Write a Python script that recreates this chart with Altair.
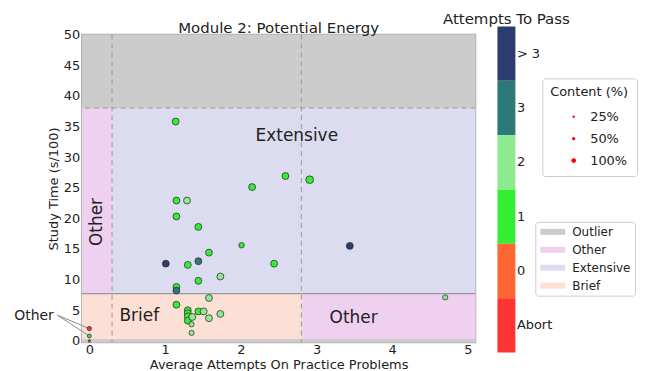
import altair as alt
import pandas as pd

# ---------------- data ----------------
pt_x = [1.14, 1.15, 1.29, 2.15, 2.59, 2.91, 1.15, 1.44, 1.58, 2.01, 3.44, 1.01,
        1.30, 1.44, 2.44, 1.44, 1.73, 1.15, 1.15, 1.15, 1.58, 4.70, 1.30, 1.30,
        1.30, 1.30, 1.36, 1.44, 1.51, 1.58, 1.73, 1.35, 1.35, 0.0, 0.0, 0.0]
pt_y = [35.8, 22.9, 22.9, 25.1, 26.9, 26.3, 20.3, 18.6, 14.4, 15.6, 15.5, 12.6,
        12.4, 13.0, 12.6, 9.8, 10.5, 8.8, 8.2, 5.9, 7.0, 7.1, 5.0, 4.5,
        4.0, 3.3, 3.9, 4.8, 4.8, 3.7, 4.4, 2.7, 1.3, 2.0, 0.8, 0.0]
pt_att = ["1", "1", "2", "1", "1", "1", "1", "1", "1", "1", "> 3", "> 3",
          "1", "3", "1", "1", "2", "1", "3", "1", "2", "2", "1", "1",
          "1", "1", "2", "1", "2", "2", "2", "2", "2", "Abort", "1", "Abort"]
pt_content = [80, 80, 80, 80, 80, 100, 80, 80, 80, 50, 80, 80,
              80, 80, 80, 80, 80, 80, 80, 80, 80, 45, 80, 80,
              80, 80, 80, 80, 80, 80, 80, 45, 45, 30, 25, 10]

cat_order = ["> 3", "3", "2", "1", "0", "Abort"]
cat_colors = ["#2b3d6e", "#2c7a78", "#8eea8e", "#33ee33", "#ff6633", "#ff3333"]

region_name = ["Outlier", "Outlier", "Other", "Extensive", "Brief", "Other"]
region_x0 = [-0.1, -0.1, -0.1, 0.3, -0.1, 2.8]
region_x1 = [5.1, 5.1, 0.3, 5.1, 2.8, 5.1]
region_y0 = [38, -0.27, 7.7, 7.7, 0.3, 0.3]
region_y1 = [50, 0.3, 38, 38, 7.7, 7.7]
legend_regions = ["Outlier", "Other", "Extensive", "Brief"]
region_colors = ["#cccccc", "#f0d0f0", "#dcdcf0", "#fde0d5"]

vline_x = [0.3, 2.8]
hline_dash_y = [38]
hline_solid_y = [7.7]

label_text = ["Extensive", "Brief", "Other"]
label_x = [2.74, 0.66, 3.49]
label_y = [33.4, 4.0, 3.8]
side_label = ["Other"]
side_x = [0.096]
side_y = [19.4]

annot_text = ["Other"]
annot_x = [-0.73]
annot_y = [4.07]
annot_line_x0 = [-0.42, -0.42]
annot_line_y0 = [4.18, 4.18]
annot_line_x1 = [0.0, 0.0]
annot_line_y1 = [2.0, 0.8]

x_ticks = [0, 1, 2, 3, 4, 5]
y_ticks = [0, 5, 10, 15, 20, 25, 30, 35, 40, 45, 50]
content_legend_vals = [25, 50, 100]

FONT = "DejaVu Sans"
TXT = "#222222"

# ---------------- frames ----------------
pts = pd.DataFrame({"x": pt_x, "y": pt_y, "att": pt_att, "content": pt_content})
reg = pd.DataFrame({"region": region_name, "x0": region_x0, "x1": region_x1,
                    "y0": region_y0, "y1": region_y1})
labels = pd.DataFrame({"t": label_text, "x": label_x, "y": label_y})
side = pd.DataFrame({"t": side_label, "x": side_x, "y": side_y})
annot = pd.DataFrame({"t": annot_text, "x": annot_x, "y": annot_y})
alines = pd.DataFrame({"x0": annot_line_x0, "y0": annot_line_y0,
                       "x1": annot_line_x1, "y1": annot_line_y1})

xsc = alt.Scale(domain=[-0.1, 5.1], nice=False, zero=False)
ysc = alt.Scale(domain=[-0.27, 50], nice=False, zero=False)
xax = alt.Axis(values=x_ticks, format="d", title="Average Attempts On Practice Problems",
               ticks=False, domain=False, grid=False, labelPadding=1, titlePadding=2,
               labelOverlap=False)
yax = alt.Axis(values=y_ticks, format="d", title="Study Time (s/100)",
               ticks=False, domain=False, grid=False, labelPadding=2, titlePadding=3,
               labelOverlap=False)


def X(f):
    return alt.X(f, type="quantitative", scale=xsc, axis=xax)


def Y(f):
    return alt.Y(f, type="quantitative", scale=ysc, axis=yax)


rects = alt.Chart(reg).mark_rect().encode(
    x=X("x0"), x2="x1", y=Y("y0"), y2="y1",
    fill=alt.Fill("region:N", scale=alt.Scale(domain=legend_regions, range=region_colors),
                  legend=None),
)
vrules = alt.Chart(pd.DataFrame({"x": vline_x})).mark_rule(
    color="#999999", strokeDash=[5, 4], strokeWidth=1).encode(x=X("x"))
hdash = alt.Chart(pd.DataFrame({"y": hline_dash_y})).mark_rule(
    color="#999999", strokeDash=[5, 4], strokeWidth=1.2).encode(y=Y("y"))
hsolid = alt.Chart(pd.DataFrame({"y": hline_solid_y})).mark_rule(
    color="#999999", strokeWidth=1.2).encode(y=Y("y"))
texts = alt.Chart(labels).mark_text(font=FONT, fontSize=17, color=TXT).encode(
    x=X("x"), y=Y("y"), text="t:N")
side_t = alt.Chart(side).mark_text(font=FONT, fontSize=17, color=TXT, angle=270).encode(
    x=X("x"), y=Y("y"), text="t:N")
annot_t = alt.Chart(annot).mark_text(font=FONT, fontSize=14, color=TXT, clip=False).encode(
    x=X("x"), y=Y("y"), text="t:N")
annot_l = alt.Chart(alines).mark_rule(color="#888888", strokeWidth=1, clip=False).encode(
    x=X("x0"), y=Y("y0"), x2="x1", y2="y1")
points = alt.Chart(pts).mark_point(filled=True, opacity=1, stroke="#333333",
                                   strokeWidth=0.8).encode(
    x=X("x"), y=Y("y"),
    color=alt.Color("att:N", scale=alt.Scale(domain=cat_order, range=cat_colors), legend=None),
    size=alt.Size("content:Q", scale=alt.Scale(domain=[0, 100], range=[0, 60]), legend=None),
)

main = alt.layer(rects, vrules, hdash, hsolid, texts, side_t, annot_l, annot_t, points).properties(
    width=395, height=309,
    view=alt.ViewConfig(stroke="#aaaaaa", strokeWidth=1.5),
    title=alt.TitleParams("Module 2: Potential Energy", fontSize=15, fontWeight="normal",
                          font=FONT, color=TXT, offset=-7, anchor="middle"),
)

# ---------------- colorbar + legends ----------------
cb = pd.DataFrame({"cat": cat_order})
bar = alt.Chart(cb).mark_rect().encode(
    y=alt.Y("cat:N", sort=cat_order,
            scale=alt.Scale(paddingInner=0, paddingOuter=0, range=[-8, 319]),
            axis=alt.Axis(orient="right", title=None, ticks=False, domain=False,
                          labelPadding=1, labelFontSize=13, labelFont=FONT, labelColor=TXT)),
    color=alt.Color("cat:N", scale=alt.Scale(domain=cat_order, range=cat_colors), legend=None),
)
size_leg = alt.Chart(pd.DataFrame({"content": content_legend_vals})).transform_filter(
    "false").mark_point(filled=True, color="red", opacity=1).encode(
    size=alt.Size("content:Q", scale=alt.Scale(domain=[0, 100], range=[0, 22]),
                  legend=alt.Legend(title="Content (%)", values=content_legend_vals,
                                    labelExpr="datum.label + '%'", orient="none",
                                    legendX=45, legendY=44, padding=8,
                                    strokeColor="#cccccc", fillColor="white",
                                    cornerRadius=3, symbolOffset=17, labelOffset=10,
                                    rowPadding=8,
                                    titleFontWeight="normal", titleFontSize=13,
                                    titleFont=FONT, labelFont=FONT, labelFontSize=13,
                                    titleColor=TXT, labelColor=TXT, titlePadding=11,
                                    titleAnchor="middle")),
)
reg_leg = alt.Chart(pd.DataFrame({"region": legend_regions})).transform_filter(
    "false").mark_rect().encode(
    fill=alt.Fill("region:N", scale=alt.Scale(domain=legend_regions, range=region_colors),
                  legend=alt.Legend(title=None, orient="none", legendX=38, legendY=188,
                                    padding=4, strokeColor="#cccccc", fillColor="white",
                                    cornerRadius=3, symbolType="M-1,-0.6H4V0.6H-1Z",
                                    symbolSize=100, symbolStrokeWidth=0, labelOffset=21,
                                    rowPadding=6, labelFont=FONT, labelFontSize=12,
                                    labelColor=TXT)),
)
colorbar = alt.layer(bar, size_leg, reg_leg).resolve_scale(size="independent").properties(
    width=18, height=309,
    view=alt.ViewConfig(stroke="transparent"),
    title=alt.TitleParams("Attempts To Pass", fontSize=15, fontWeight="normal", font=FONT,
                          color=TXT, offset=0, anchor="middle"),
)

chart = alt.hconcat(main, colorbar, spacing=-36).resolve_scale(
    color="independent", fill="independent", size="independent"
).configure_axis(
    labelFont=FONT, titleFont=FONT, labelFontSize=13, titleFontSize=13,
    labelColor=TXT, titleColor=TXT, titleFontWeight="normal"
).properties(padding={"left": 5, "top": 2, "right": 0, "bottom": 0})

chart.save("out.html", embed_options={"renderer": "svg", "actions": False})
